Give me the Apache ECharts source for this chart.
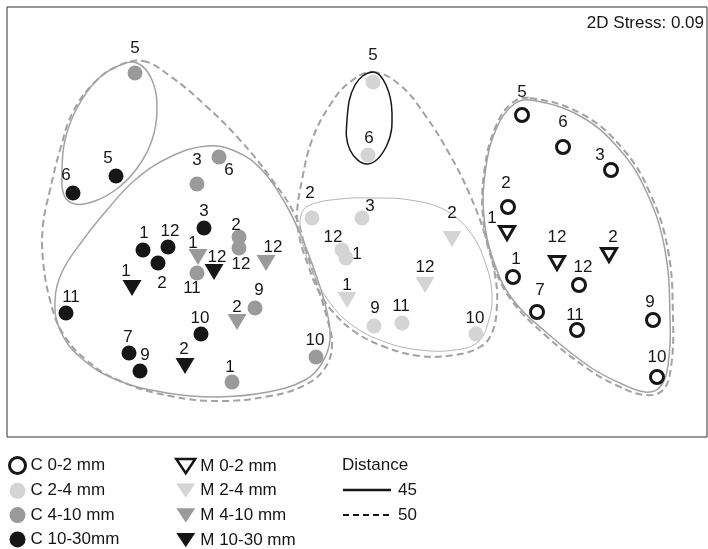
<!DOCTYPE html>
<html>
<head>
<meta charset="utf-8">
<script src="https://cdn.jsdelivr.net/npm/echarts@6/dist/echarts.min.js"></script>
<style>
  html, body { margin: 0; padding: 0; background: #fff; }
  #chart { width: 708px; height: 549px; }
</style>
</head>
<body>
<div id="chart"></div>
<script>
// nMDS ordination of sediment samples; each point is [axis1, axis2, sample number]
const c0_2 = [[522,115,'5'],[563,147,'6'],[611,170,'3'],[508,207,'2'],[513,277,'1'],[579,285,'12'],[537,312,'7'],[577,330,'11'],[653,320,'9'],[657,377,'10']];
const m0_2 = [[507,233,'1'],[557,263,'12'],[609,255,'2']];
const c2_4 = [[373,82,'5'],[368,155,'6'],[312,218,'2'],[362,218,'3'],[342,250,'12'],[346,258,'1'],[374,326,'9'],[402,323,'11'],[476,334,'10']];
const m2_4 = [[452,239,'2'],[425,285,'12'],[347,300,'1']];
const c4_10 = [[135,73,'5'],[197,184,'3'],[219,157,'6'],[239,237,'2'],[239,248,'12'],[197,273,'11'],[255,308,'9'],[316,357,'10'],[232,382,'1']];
const m4_10 = [[198,257,'1'],[266,263,'12'],[237,322,'2']];
const c10_30 = [[73,193,'6'],[116,176,'5'],[204,228,'3'],[143,250,'1'],[168,247,'12'],[158,263,'2'],[66,313,'11'],[129,353,'7'],[140,371,'9'],[201,334,'10']];
const m10_30 = [[214,272,'12'],[132,288,'1'],[185,366,'2']];

// Cluster boundaries at 45 % and 50 % similarity
const ringLeft50 = [[143,61],[170,76],[205,105],[240,140],[270,177],[295,215],[306,250],[317,285],[327,318],[332,345],[325,368],[305,385],[270,396],[220,401],[170,396],[120,381],[85,359],[62,332],[50,300],[43,260],[43,225],[50,190],[60,150],[73,112],[95,82],[118,66]];
const ringTopLeft45 = [[137,63],[152,80],[157,110],[152,140],[138,167],[118,188],[95,201],[75,204],[64,195],[62,172],[65,140],[77,108],[97,80],[118,66]];
const ringLeft45 = [[207,146],[235,151],[262,170],[285,203],[302,238],[316,275],[327,312],[330,340],[322,363],[305,380],[268,392],[217,397],[167,393],[117,380],[80,357],[60,330],[55,300],[62,272],[83,240],[107,210],[135,180],[170,157]];
const ringMid50 = [[373,72],[400,85],[425,115],[450,155],[470,195],[485,235],[495,275],[497,305],[492,333],[480,347],[455,355],[420,356],[385,347],[355,332],[333,312],[318,290],[308,265],[300,240],[297,215],[302,180],[312,140],[330,105],[350,82]];
const ringMid45 = [[373,198],[410,200],[445,210],[470,232],[485,262],[492,295],[488,323],[478,342],[455,350],[420,350],[385,342],[352,325],[328,300],[312,270],[302,240],[301,215],[310,205],[340,199]];
const ringTop45 = [[373,72],[386,85],[392,113],[387,145],[368,164],[350,150],[347,120],[355,85]];
const ringRight45 = [[530,100],[580,116],[620,150],[647,193],[665,250],[670,317],[668,365],[660,387],[645,392],[620,383],[590,367],[547,333],[513,300],[495,265],[484,217],[486,167],[497,127],[513,105]];
const ringRight50 = [[530,98],[582,114],[623,149],[650,193],[668,250],[673,317],[671,367],[663,390],[645,395],[618,386],[588,369],[545,335],[512,301],[494,266],[483,217],[485,166],[496,126],[512,103]];

const stressText = '2D Stress: 0.09';
const distanceLevels = ['45', '50'];

// label nudges (label centre relative to the marker), in screen pixels
const nudge = {
  c0_2: [[0,-23],[0,-25],[-11,-15],[-2,-24],[3,-18],[4,-18],[3,-22],[-2,-15],[-3,-18],[0,-20]],
  m0_2: [[-15,-15],[0,-26],[4,-18]],
  c2_4: [[0,-27],[1,-17],[-2,-25],[8,-12],[-9,-13],[11,-4],[1,-18],[-1,-17],[-1,-16]],
  m2_4: [[0,-26],[0,-18],[0,-15]],
  c4_10: [[0,-25],[0,-24],[10,13],[-3,-12],[2,16],[-5,15],[4,-18],[-1,-17],[-2,-15]],
  m4_10: [[-5,-14],[7,-16],[0,-15]],
  c10_30: [[-7,-18],[-8,-18],[0,-17],[1,-17],[2,-16],[4,20],[5,-16],[-1,-16],[5,-16],[-1,-16]],
  m10_30: [[3,-15],[-6,-17],[-1,-17]]
};

const FONT = 'Liberation Sans, Arial, Helvetica, sans-serif';
const INK = '#161616';
const LIGHT = '#d4d4d4';
const MID = '#9a9a9a';
const RING = '#a2a2a2';
const DOWN_TRI = 'path://M0,0L20,0L10,15Z';

function points(name, pts, nud, kind, fill) {
  const tri = kind === 'tri';
  const open = fill === 'open';
  return {
    type: 'scatter',
    name: name,
    symbol: tri ? 'triangle' : 'circle',
    symbolRotate: tri ? 180 : 0,
    symbolSize: tri ? (open ? [15, 13] : [19, 16]) : (open ? 13 : 15),
    itemStyle: open
      ? { color: '#fff', borderColor: INK, borderWidth: 3, opacity: 1 }
      : { color: fill, opacity: 1 },
    label: {
      show: true, position: 'inside', color: INK, fontSize: 17, fontFamily: FONT,
      formatter: p => p.name
    },
    data: pts.map((p, i) => ({ value: [p[0], p[1]], name: p[2], label: { offset: nud[i] } })),
    z: 3,
    silent: true
  };
}

function ring(pts, stroke, width, dash) {
  return {
    type: 'custom',
    silent: true,
    z: 2,
    data: [[pts[0][0], pts[0][1]]],
    renderItem: function (params, api) {
      return {
        type: 'polygon',
        shape: { points: pts.map(p => api.coord(p)), smooth: 0.4 },
        style: { fill: 'none', stroke: stroke, lineWidth: width, lineDash: dash || null }
      };
    }
  };
}

const legendText = { fontSize: 17, color: INK, fontFamily: FONT };

const chart = echarts.init(document.getElementById('chart'), null, { renderer: 'canvas' });
chart.setOption({
  animation: false,
  backgroundColor: '#fff',
  grid: { left: 7, top: 7, right: 1, bottom: 112, show: true, borderColor: '#333', borderWidth: 1, backgroundColor: 'transparent' },
  xAxis: { type: 'value', min: 7, max: 707, show: false },
  yAxis: { type: 'value', min: 7, max: 437, inverse: true, show: false },
  legend: [
    {
      data: [
        { name: 'C 0-2 mm', icon: 'circle', itemStyle: { color: '#fff', borderColor: INK, borderWidth: 3 } },
        { name: 'C 2-4 mm', icon: 'circle' },
        { name: 'C 4-10 mm', icon: 'circle' },
        { name: 'C 10-30mm', icon: 'circle' }
      ],
      orient: 'vertical', left: 8, top: 456, height: 130, padding: 0,
      itemWidth: 16, itemHeight: 16, itemGap: 7.3,
      selectedMode: false, textStyle: legendText
    },
    {
      data: [
        { name: 'M 0-2 mm', icon: DOWN_TRI, itemStyle: { color: '#fff', borderColor: INK, borderWidth: 2.5 } },
        { name: 'M 2-4 mm', icon: DOWN_TRI },
        { name: 'M 4-10 mm', icon: DOWN_TRI },
        { name: 'M 10-30 mm', icon: DOWN_TRI }
      ],
      orient: 'vertical', left: 175, top: 457.5, height: 130, padding: 0,
      itemWidth: 19, itemHeight: 16, itemGap: 7.7,
      selectedMode: false, textStyle: legendText
    }
  ],
  graphic: [
    { type: 'text', right: 4, top: 15, style: { text: stressText, font: '17px ' + FONT, fill: INK } },
    { type: 'text', left: 342, top: 457, style: { text: 'Distance', font: '17px ' + FONT, fill: INK } },
    { type: 'line', shape: { x1: 343, y1: 490, x2: 391, y2: 490 }, style: { stroke: INK, lineWidth: 2.5 } },
    { type: 'text', left: 398, top: 482, style: { text: distanceLevels[0], font: '17px ' + FONT, fill: INK } },
    { type: 'line', shape: { x1: 343, y1: 515, x2: 391, y2: 515 }, style: { stroke: INK, lineWidth: 2, lineDash: [6, 4] } },
    { type: 'text', left: 398, top: 507, style: { text: distanceLevels[1], font: '17px ' + FONT, fill: INK } }
  ],
  series: [
    ring(ringLeft50, RING, 2, [7, 4]),
    ring(ringTopLeft45, RING, 1.5),
    ring(ringLeft45, RING, 1.5),
    ring(ringMid50, RING, 2, [7, 4]),
    ring(ringMid45, '#b4b4b4', 1),
    ring(ringTop45, INK, 1.5),
    ring(ringRight45, RING, 1.5),
    ring(ringRight50, RING, 2, [7, 4]),
    points('C 0-2 mm', c0_2, nudge.c0_2, 'dot', 'open'),
    points('C 2-4 mm', c2_4, nudge.c2_4, 'dot', LIGHT),
    points('C 4-10 mm', c4_10, nudge.c4_10, 'dot', MID),
    points('C 10-30mm', c10_30, nudge.c10_30, 'dot', INK),
    points('M 0-2 mm', m0_2, nudge.m0_2, 'tri', 'open'),
    points('M 2-4 mm', m2_4, nudge.m2_4, 'tri', LIGHT),
    points('M 4-10 mm', m4_10, nudge.m4_10, 'tri', MID),
    points('M 10-30 mm', m10_30, nudge.m10_30, 'tri', INK)
  ]
});
</script>
</body>
</html>
